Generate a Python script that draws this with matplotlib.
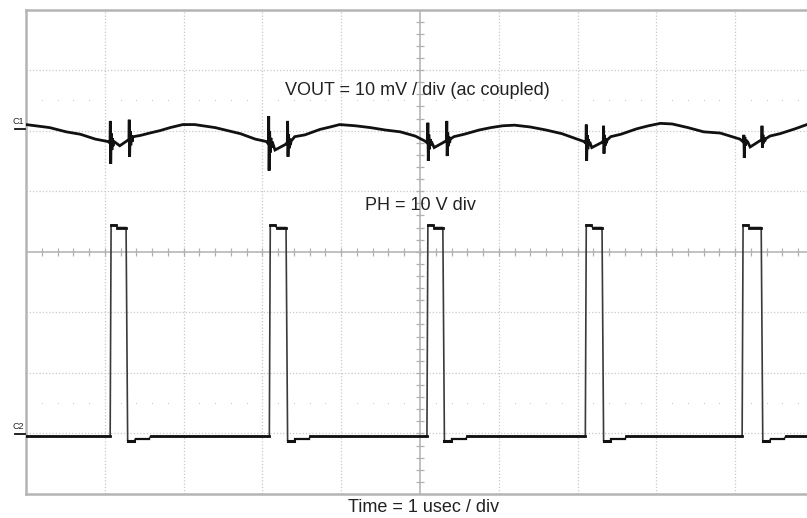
import matplotlib
matplotlib.use("Agg")
import matplotlib.pyplot as plt
from matplotlib.lines import Line2D
import numpy as np

plt.rcParams['font.family'] = ['Liberation Sans', 'DejaVu Sans']

# ---------------- data (time in usec, amplitude in divisions) ----------------
# VOUT (ac coupled, 10 mV/div) slow ripple
vout_t = [0.00, 0.30, 0.51, 0.69, 0.88, 1.04, 1.10, 1.19, 1.28,
          1.36, 1.45, 1.57, 1.70, 1.83, 1.99, 2.14, 2.40, 2.72, 2.91, 3.05,
          3.16, 3.29,
          3.41, 3.54, 3.73, 3.86, 3.98, 4.18, 4.37, 4.56, 4.75, 4.94, 5.06,
          5.18, 5.29,
          5.43, 5.56, 5.75, 5.90, 6.05, 6.20, 6.40, 6.60, 6.80, 6.95, 7.08,
          7.18, 7.30,
          7.42, 7.55, 7.75, 7.90, 8.05, 8.20, 8.40, 8.60, 8.81, 9.06,
          9.19, 9.31,
          9.44, 9.57, 9.76, 9.91]
vout_v = [2.10, 2.05, 1.98, 1.94, 1.86, 1.82, 1.77, 1.75, 1.83,
          1.90, 1.92, 1.96, 2.00, 2.05, 2.10, 2.10, 2.05, 1.95, 1.86, 1.82,
          1.68, 1.77,
          1.90, 1.93, 2.02, 2.06, 2.10, 2.08, 2.05, 2.01, 1.98, 1.91, 1.83,
          1.72, 1.80,
          1.90, 1.94, 2.01, 2.05, 2.08, 2.09, 2.06, 2.01, 1.95, 1.88, 1.82,
          1.72, 1.80,
          1.90, 1.94, 2.03, 2.08, 2.12, 2.11, 2.05, 1.98, 1.96, 1.86,
          1.73, 1.83,
          1.91, 1.95, 2.03, 2.10]

# switching spikes on VOUT
spike_t  = [1.07, 1.31, 3.08, 3.32, 5.10, 5.34, 7.11, 7.33, 9.11, 9.34]
spike_hi = [2.16, 2.18, 2.24, 2.16, 2.13, 2.16, 2.10, 2.08, 1.93, 2.08]
spike_lo = [1.45, 1.57, 1.34, 1.57, 1.50, 1.58, 1.50, 1.62, 1.55, 1.72]

# PH switch node (10 V/div)
ph_on  = [1.08, 3.10, 5.10, 7.11, 9.10]
ph_off = [1.28, 3.31, 5.30, 7.32, 9.34]
ph_high, ph_over = 0.40, 0.44
ph_low, ph_under, ph_settle = -3.05, -3.13, -3.09

# labels
label_vout = "VOUT = 10 mV / div (ac coupled)"
label_ph = "PH = 10 V div"
label_time = "Time = 1 usec / div"
ch1_level, ch2_level = 2.03, -3.00

# ---------------- figure ----------------
W, H = 807, 518
fig = plt.figure(figsize=(W / 100, H / 100), dpi=100)
left_px, top_px, bottom_px = 26, 9.5, 494
div_x = 78.8
ax = fig.add_axes([left_px / W, (H - bottom_px) / H, (W - left_px) / W, (bottom_px - top_px) / H])
xmax = (W - left_px) / div_x
ax.set_xlim(0, xmax)
ax.set_ylim(-4, 4)
ax.set_xticks([]); ax.set_yticks([])
for s in ['left', 'top', 'bottom']:
    ax.spines[s].set_color('#b4b4b4')
    ax.spines[s].set_linewidth(1.8)
ax.spines['right'].set_visible(False)

grid_c = '#c8c8c8'
for gx in range(1, 10):
    if gx == 5:
        continue
    ax.axvline(gx, color=grid_c, lw=0.9, ls=(0, (1, 1.6)), zorder=1)
for gy in [-3, -2, -1, 1, 2, 3]:
    ax.axhline(gy, color=grid_c, lw=0.9, ls=(0, (1, 1.6)), zorder=1)
# centre axes with ticks
ax.axvline(5, color='#b0b0b0', lw=1.1, zorder=1)
ax.axhline(0, color='#b0b0b0', lw=1.1, zorder=1)
tx = np.arange(0.2, xmax, 0.2)
ax.vlines(tx, -0.065, 0.065, color='#b0b0b0', lw=0.9, zorder=1)
ty = np.arange(-3.8, 4.0, 0.2)
ax.hlines(ty, 5 - 0.05, 5 + 0.05, color='#b0b0b0', lw=0.9, zorder=1)
# faint dotted rows at +-2.5 div
dx = [v for v in tx if abs(v - round(v)) > 0.05]
ax.plot(dx, [2.5] * len(dx), ls='none', marker='s', ms=0.7, mew=0, color='#c8c8c8', zorder=1)
ax.plot(dx, [-2.5] * len(dx), ls='none', marker='s', ms=0.7, mew=0, color='#c8c8c8', zorder=1)

# ---- VOUT trace with spikes ----
pts = list(zip(vout_t, vout_v))
ring = [0.45, -0.32, 0.22, -0.14, 0.08]
for st, hi, lo in zip(spike_t, spike_hi, spike_lo):
    base = np.interp(st, vout_t, vout_v)
    amp = (hi - lo) / 2
    seq = [(st - 0.004, base), (st, hi), (st + 0.005, lo)]
    for k, r in enumerate(ring):
        seq.append((st + 0.012 + 0.008 * k, base + r * amp))
    pts += seq
pts.sort(key=lambda p: p[0])
ax.plot([p[0] for p in pts], [p[1] for p in pts], color='#111111', lw=2.0, zorder=3,
        solid_joinstyle='miter')

# ---- PH trace ----
px, py = [0.0], [ph_low]
for on, off in zip(ph_on, ph_off):
    px += [on - 0.012, on, on + 0.06, on + 0.08, off - 0.01, off + 0.01, off + 0.09,
           off + 0.11, off + 0.28, off + 0.3]
    py += [ph_low, ph_over, ph_over, ph_high, ph_high, ph_under, ph_under,
           ph_settle, ph_settle, ph_low]
px.append(xmax); py.append(ph_low)
ax.plot(px, py, color='#3a3a3a', lw=1.2, zorder=3)
# thicker horizontal levels
prev = 0.0
for on, off in zip(ph_on, ph_off):
    ax.plot([prev, on - 0.012], [ph_low, ph_low], color='#111111', lw=2.0, zorder=3)
    ax.plot([on, on + 0.06], [ph_over, ph_over], color='#111111', lw=2.0, zorder=3)
    ax.plot([on + 0.08, off - 0.01], [ph_high, ph_high], color='#111111', lw=2.0, zorder=3)
    ax.plot([off + 0.01, off + 0.09], [ph_under, ph_under], color='#111111', lw=2.2, zorder=3)
    ax.plot([off + 0.11, off + 0.28], [ph_settle, ph_settle], color='#111111', lw=1.6, zorder=3)
    prev = off + 0.3
ax.plot([prev, xmax], [ph_low, ph_low], color='#111111', lw=2.0, zorder=3)

# ---- labels ----
ax.text(5 - 3 / div_x, 2.67, label_vout, ha='center', va='center', fontsize=13, color='#222222')
ax.text(5, 0.77, label_ph, ha='center', va='center', fontsize=13, color='#222222')
fig.text((W / 2 + 20) / W, 1 - 508 / H, label_time, ha='center', va='center', fontsize=13,
         color='#222222')

def y2fig(v):
    ypx = 252 - v * 60.6
    return 1 - ypx / H

for name, lev in [('C1', ch1_level), ('C2', ch2_level)]:
    fy = y2fig(lev)
    fig.text(18 / W, fy + 7 / H, name, ha='center', va='center', fontsize=6.5, color='#222222')
    fig.add_artist(Line2D([15 / W, 25 / W], [fy, fy], color='#111111', lw=1.3))

fig.savefig('out.png', dpi=100)
